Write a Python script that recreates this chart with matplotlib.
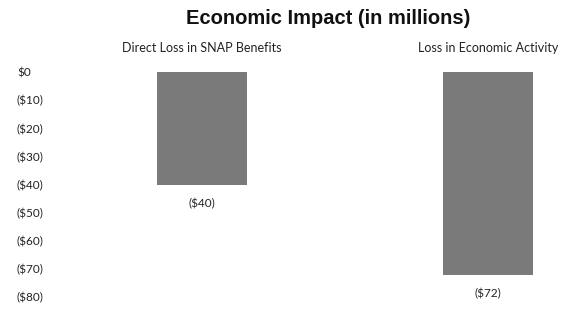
import matplotlib
matplotlib.use("Agg")
import matplotlib.pyplot as plt

categories = ["Direct Loss in SNAP Benefits", "Loss in Economic Activity"]
values = [-40, -72]
value_labels = ["($40)", "($72)"]
yticks = [0, -10, -20, -30, -40, -50, -60, -70, -80]
ytick_labels = ["$0", "($10)", "($20)", "($30)", "($40)", "($50)", "($60)", "($70)", "($80)"]

W, H = 572, 310
fig = plt.figure(figsize=(W / 100, H / 100), dpi=100)
ax = fig.add_axes([60 / W, (H - 297) / H, (W - 60) / W, 225 / H])

x = list(range(len(categories)))
ax.bar(x, values, width=0.315, color="#7a7a7a", edgecolor="none")
ax.set_xlim(-0.497, 1.294)
ax.set_ylim(-80, 0)
ax.set_yticks(yticks)
ax.set_yticklabels(ytick_labels, fontfamily="Lato", fontsize=8.5, color="#222222")
ax.tick_params(axis="y", length=0, pad=12)
ax.set_xticks([])
for s in ax.spines.values():
    s.set_visible(False)

# accounting-style padding: "$0" sits left of the closing-parenthesis column
for tick in ax.yaxis.get_major_ticks():
    if tick.label1.get_text() == "$0":
        tick.label1.set_x(-12 / (W - 60))

for xi, v, lab in zip(x, values, value_labels):
    ax.annotate(lab, (xi, v), xytext=(0, -10), textcoords="offset points",
                ha="center", va="top", fontfamily="Lato", fontsize=8.5, color="#222222")
for xi, cat in zip(x, categories):
    ax.annotate(cat, (xi, 0), xytext=(0, 13), textcoords="offset points",
                ha="center", va="bottom", fontfamily="Lato", fontsize=9, color="#222222",
                annotation_clip=False)

fig.text(328 / W, 1 - 18 / H, "Economic Impact (in millions)", ha="center", va="center",
         fontfamily="Liberation Sans", fontweight="bold", fontsize=14.5, color="#111111")

fig.savefig("out.png", dpi=100)
